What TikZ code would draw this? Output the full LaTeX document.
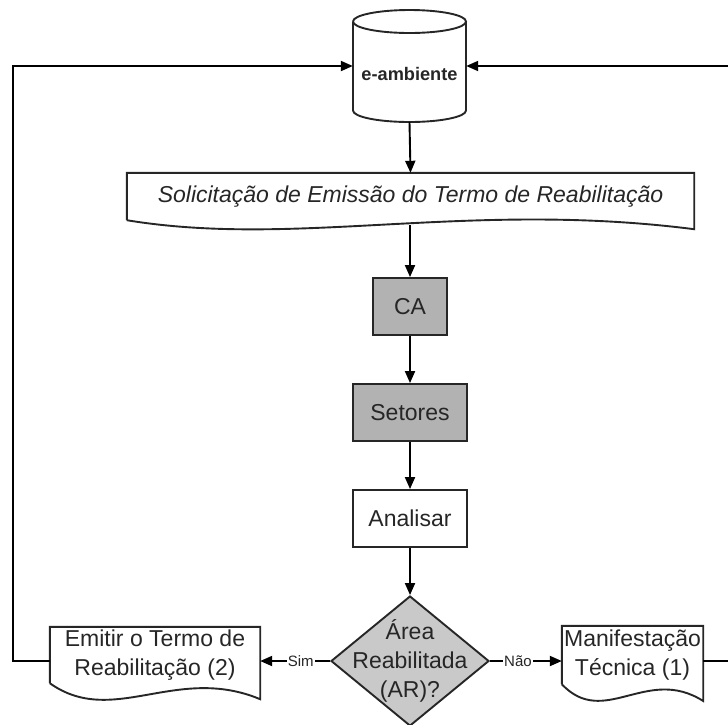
\documentclass[tikz,border=0pt]{standalone}
\usepackage{fontspec}
\setmainfont{Liberation Sans}
\usetikzlibrary{arrows.meta,shapes.geometric,calc,backgrounds}

\begin{document}
\begin{tikzpicture}[x=1pt,y=-1pt,
  shapeline/.style={draw=black!85, line width=1.9pt},
  conn/.style={draw=black, line width=1.9pt},
  arr/.style={conn, -{Triangle[length=12pt,width=10pt]}},
  txt/.style={font=\fontsize{23}{29}\selectfont, text=black!85, align=center, inner sep=0pt},
  plainbox/.style={shapeline, txt, rectangle},
  graybox/.style={plainbox, fill=gray!60},
  docnode/.style={txt, rectangle},
  decision/.style={shapeline, diamond, fill=gray!42, inner sep=0pt, minimum width=158pt, minimum height=130pt},
  lbl/.style={font=\fontsize{15}{17}\selectfont, text=black!85, fill=white, inner sep=1pt}
]
\useasboundingbox (0,0) rectangle (728,724);

% database cylinder
\node[minimum width=113pt, minimum height=112pt, inner sep=0pt] (db) at (409.5,66) {};
\draw[shapeline] (353,21.5) arc[start angle=180, end angle=-180, x radius=56.5pt, y radius=11.5pt];
\draw[shapeline] (353,21.5) -- (353,110.5) arc[start angle=180, end angle=360, x radius=56.5pt, y radius=11.5pt] -- (466,21.5);
\node[font=\bfseries\fontsize{18.2}{20}\selectfont, text=black!85, inner sep=0pt] (dbtext) at (409.5,74) {e-ambiente};

% document-shaped nodes: the node spans from the top edge to the left corner of the wavy bottom
\node[docnode, minimum width=567pt, minimum height=47pt] (sol) at (410.5,196.5) {\itshape Solicitação de Emissão do Termo de Reabilitação};
\node[docnode, minimum width=210pt, minimum height=56pt] (emit) at (155,655) {Emitir o Termo de\\Reabilitação (2)};
\node[docnode, minimum width=141pt, minimum height=58pt] (man) at (632.5,655) {Manifestação\\Técnica (1)};

% wavy outlines: \n node, \a wave depth, \b crest height, \e right corner drop
\begin{scope}[on background layer]
  \foreach \n/\a/\b/\e in {sol/10/-2.0/0.9, emit/16/-1.2/1.0, man/16/-1.2/1.05}{
    \draw[shapeline]
      (\n.south west) -- (\n.north west) -- (\n.north east) -- ($(\n.south east)+(0,\e*\a)$)
      .. controls ($(\n.south west)!0.6!(\n.south east)+(0,\b*\a)$)
         and ($(\n.south west)!0.3!(\n.south east)+(0,2.8*\a)$) ..
      (\n.south west);
  }
\end{scope}

% process boxes
\node[graybox, minimum width=74pt, minimum height=57pt] (ca) at (410,306.5) {CA};
\node[graybox, minimum width=114pt, minimum height=57pt] (set) at (410,412.5) {Setores};
\node[plainbox, minimum width=114pt, minimum height=57pt] (ana) at (410,518.5) {Analisar};
\node[decision] (dec) at (410,661) {};
\node[txt] (dectext) at (410,661) {Área\\Reabilitada\\(AR)?};

% connectors
\draw[arr] (db.south) -- (sol.north);
\coordinate (solout) at (410,225);
\draw[arr] (solout) -- (ca.north);
\draw[arr] (ca.south) -- (set.north);
\draw[arr] (set.south) -- (ana.north);
\draw[arr] (ana.south) -- (dec.north);
\draw[arr] (dec.west) -- node[lbl, pos=0.42]{Sim} (emit.east |- dec.west);
\draw[arr] (dec.east) -- node[lbl, pos=0.39]{Não} (man.west |- dec.east);

% loop-back lines
\coordinate (lcorner) at (13,661);
\draw[arr] (emit.west |- lcorner) -- (lcorner) |- (db.west);
\coordinate (rout) at (728,661);
\coordinate (rin) at (728,66);
\draw[conn] (man.east |- rout) -- (rout);
\draw[arr] (rin) -- (db.east);
\end{tikzpicture}
\end{document}
